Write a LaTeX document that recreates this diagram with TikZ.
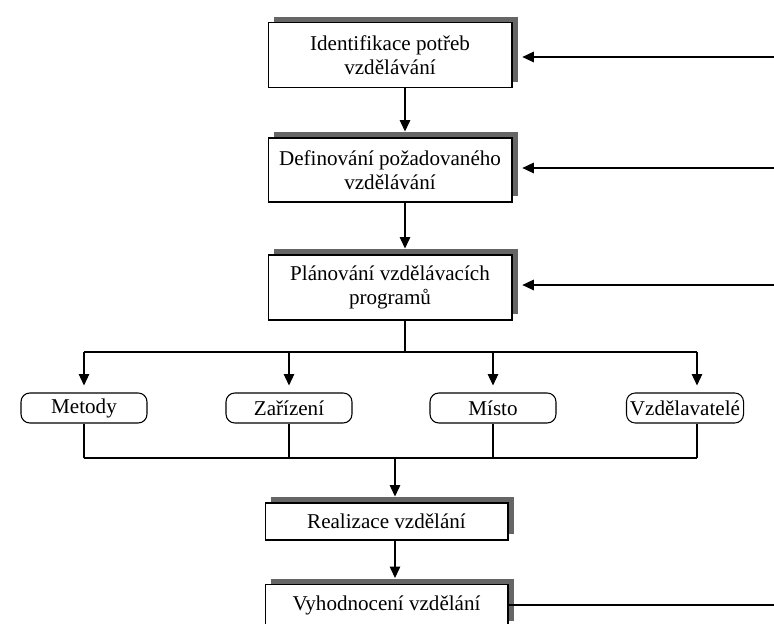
\documentclass[tikz,border=0pt]{standalone}
\usepackage{fontspec}
\setmainfont{Liberation Serif}
\usepackage{tikz}
\usetikzlibrary{
  arrows.meta,
  positioning,
  shadows,
  calc,
}

\begin{document}
\begin{tikzpicture}[
  x=0.02cm, y=-0.02cm,
  >={Triangle[width=6pt,length=6.5pt]},
  stepbox/.style={
    draw, line width=0.6pt, fill=white, minimum width=4.88cm,
    align=center, font=\fontsize{12}{14}\selectfont, inner sep=2pt,
    drop shadow={shadow xshift=3.4pt, shadow yshift=3.4pt,
                 fill=black!60, opacity=1},
  },
  itembox/.style={
    draw, line width=0.6pt, rounded corners=5pt, minimum height=0.6cm,
    minimum width=2.52cm, align=center, font=\fontsize{12}{14}\selectfont,
    inner sep=2pt,
  },
  conn/.style={line width=0.6pt},
  arr/.style={->, line width=0.6pt, shorten >=3.4pt},
  fback/.style={->, line width=0.6pt, shorten >=5.6pt},
]

\clip (0,0) rectangle (774,624);

% ── Main steps ──────────────────────────────────────────────────────
\node[stepbox, minimum height=1.3cm] (ident) at (390,55)
  {Identifikace potřeb\\vzdělávání};
\node[stepbox, minimum height=1.28cm] (need) at (390,170)
  {Definování požadovaného\\vzdělávání};
\node[stepbox, minimum height=1.3cm] (plan) at (390,287.5)
  {Plánování vzdělávacích\\programů};

% ── Components ──────────────────────────────────────────────────────
\node[itembox] (met) at (84,408) {Metody};
\node[itembox] (zar) at (289,408) {Zařízení};
\node[itembox] (mis) at (493,408) {Místo};
\node[itembox, minimum width=2.0cm] (vzd) at (685,408) {Vzdělavatelé};

% ── Realisation and evaluation ──────────────────────────────────────
\node[stepbox, minimum width=4.86cm, minimum height=0.74cm] (real) at (386.5,521.5)
  {Realizace vzdělání};
\node[stepbox, minimum width=4.86cm, minimum height=0.84cm] (eval) at (386.5,605.5)
  {Vyhodnocení vzdělání};

% ── Helper coordinates ──────────────────────────────────────────────
\coordinate (spine) at (405,0);
\coordinate (spinelow) at (395,0);
\coordinate (topbar) at (405,352);
\coordinate (botbar) at (395,458);
\coordinate (c1) at (84,0);
\coordinate (c2) at (289,0);
\coordinate (c3) at (493,0);
\coordinate (c4) at (697,0);
\coordinate (fb1) at (774,57);
\coordinate (fb2) at (774,168);
\coordinate (fb3) at (774,285);
\coordinate (fbout) at (774,605);

% ── Connections: main flow ──────────────────────────────────────────
\draw[arr] (ident.south -| spine) -- (need.north -| spine);
\draw[arr] (need.south -| spine) -- (plan.north -| spine);
\draw[conn] (plan.south -| spine) -- (topbar);
\draw[conn] (topbar -| c1) -- (topbar -| c4);

\foreach \n/\c in {met/c1, zar/c2, mis/c3, vzd/c4} {
  \draw[arr, shorten >=4pt] (topbar -| \c) -- (\n.north -| \c);
  \draw[conn] (\n.south -| \c) -- (botbar -| \c);
}
\draw[conn] (botbar -| c1) -- (botbar -| c4);

\draw[arr] (botbar) -- (real.north -| spinelow);
\draw[arr] (real.south -| spinelow) -- (eval.north -| spinelow);

% ── Connections: feedback ───────────────────────────────────────────
\draw[conn] (eval.east |- fbout) -- (fbout);
\draw[fback] (fb1) -- (fb1 -| ident.east);
\draw[fback] (fb2) -- (fb2 -| need.east);
\draw[fback] (fb3) -- (fb3 -| plan.east);

\end{tikzpicture}
\end{document}
